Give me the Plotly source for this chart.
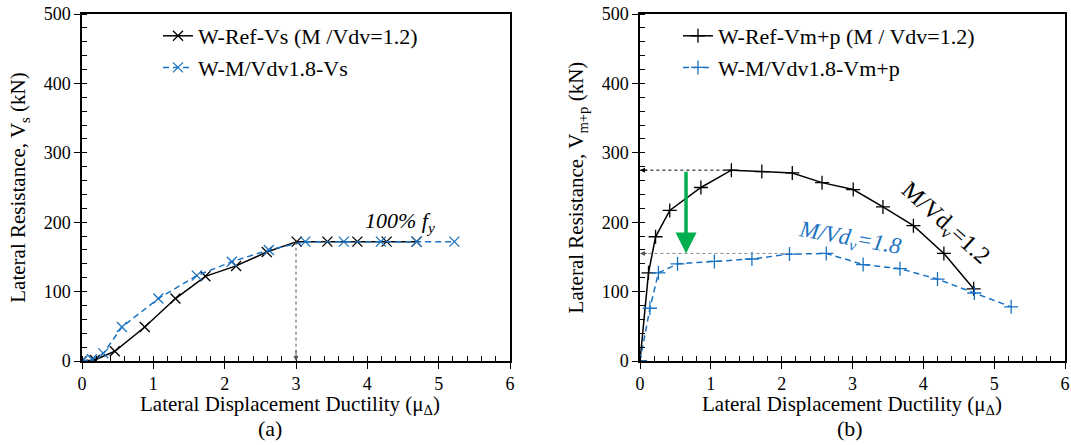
import plotly.graph_objects as go

# ---------------- data ----------------
# (a) shear strength Vs
ref_vs_mu = [0, 0.18, 0.46, 0.88, 1.31, 1.73, 2.16, 2.59, 3.01, 3.44, 3.86, 4.27, 4.69]
ref_vs_kn = [0, 1.5, 14, 49, 90, 122, 137, 157, 172, 172, 172, 172, 172]
m18_vs_mu = [0, 0.14, 0.30, 0.56, 1.07, 1.61, 2.10, 2.62, 3.13, 3.67, 4.19, 4.69, 5.22]
m18_vs_kn = [0, 2.5, 11, 49, 90, 123, 143, 160, 172, 172, 172, 172, 172]

# (b) Vm+p
ref_mp_mu = [0, 0.12, 0.22, 0.42, 0.86, 1.29, 1.72, 2.15, 2.57, 3.01, 3.43, 3.86, 4.29, 4.71]
ref_mp_kn = [0, 127, 179, 217, 250, 275, 273, 271, 257, 247, 222, 195, 155, 104]
m18_mp_mu = [0, 0.14, 0.26, 0.53, 1.05, 1.58, 2.11, 2.63, 3.15, 3.67, 4.20, 4.72, 5.24]
m18_mp_kn = [0, 76, 127, 140, 143.5, 147, 154, 155, 139, 133, 118, 98, 78]

# reference levels
yield_mu = 3.0
yield_vs = 172
peak_ref_mu, peak_ref_kn = 1.29, 275
peak_m18_mu, peak_m18_kn = 2.11, 155
drop_arrow_mu = 0.65

names_a = ["W-Ref-Vs (M /Vdv=1.2)", "W-M/Vdv1.8-Vs"]
names_b = ["W-Ref-Vm+p (M / Vdv=1.2)", "W-M/Vdv1.8-Vm+p"]

FONT = "Liberation Serif, Times New Roman, serif"
BLUE = "#1a72c2"
BLACK = "#000000"
GREEN = "#00b050"
GREY = "#555555"

W, H = 1071, 445

fig = go.Figure()

def add_series(x, y, name, color, dash, symbol, xa, ya, leg):
    fig.add_trace(go.Scatter(
        x=x, y=y, name=name, mode="lines+markers",
        line=dict(color=color, width=1.5, dash=dash),
        marker=dict(symbol=symbol, size=10, color=color,
                    line=dict(color=color, width=1.3)),
        xaxis=xa, yaxis=ya, legend=leg))

add_series(ref_vs_mu, ref_vs_kn, names_a[0], BLACK, "solid", "x-thin", "x", "y", "legend")
add_series(m18_vs_mu, m18_vs_kn, names_a[1], BLUE, "6px,4px", "x-thin", "x", "y", "legend")
add_series(ref_mp_mu, ref_mp_kn, names_b[0], BLACK, "solid", "cross-thin", "x2", "y2", "legend2")
add_series(m18_mp_mu, m18_mp_kn, names_b[1], BLUE, "6px,4px", "cross-thin", "x2", "y2", "legend2")

# dotted guide lines (as traces)
fig.add_trace(go.Scatter(x=[yield_mu, yield_mu], y=[yield_vs, 0], mode="lines",
                         line=dict(color=GREY, width=1, dash="dot"),
                         showlegend=False, hoverinfo="skip", xaxis="x", yaxis="y"))
fig.add_trace(go.Scatter(x=[peak_ref_mu, 0], y=[peak_ref_kn, peak_ref_kn], mode="lines",
                         line=dict(color=BLACK, width=1, dash="dot"),
                         showlegend=False, hoverinfo="skip", xaxis="x2", yaxis="y2"))
fig.add_trace(go.Scatter(x=[peak_m18_mu, 0], y=[peak_m18_kn, peak_m18_kn], mode="lines",
                         line=dict(color="#888888", width=1, dash="dot"),
                         showlegend=False, hoverinfo="skip", xaxis="x2", yaxis="y2"))

axis_common = dict(
    showline=True, linecolor="black", linewidth=1.5, mirror=True,
    ticks="outside", ticklen=6, tickwidth=1.3, tickcolor="black",
    showgrid=False, zeroline=False, automargin=False, ticklabeloverflow="allow",
    tickfont=dict(family=FONT, size=18, color="black"),
)
minor_x = dict(dtick=0.2, ticks="inside", ticklen=5, tickcolor="black", tickwidth=1, showgrid=False)
minor_y = dict(dtick=20, ticks="inside", ticklen=5, tickcolor="black", tickwidth=1, showgrid=False)

def px(x):  # screen x -> paper fraction
    return x / W

def py(y):  # screen y -> paper fraction
    return (H - y) / H

fig.update_layout(
    template="none",
    width=W, height=H,
    margin=dict(l=0, r=0, t=0, b=0, pad=0),
    paper_bgcolor="white", plot_bgcolor="white",
    font=dict(family=FONT, color="black"),
    xaxis=dict(domain=[px(82), px(510)], range=[0, 6], dtick=1, minor=minor_x,
               anchor="y", **axis_common),
    yaxis=dict(domain=[py(361), py(14)], range=[0, 500], dtick=100, minor=minor_y,
               title=dict(text="Lateral Resistance, V<sub>s</sub> (kN)",
                          font=dict(family=FONT, size=21, color="black"), standoff=12),
               anchor="x", **axis_common),
    xaxis2=dict(domain=[px(640), px(1065)], range=[0, 6], dtick=1, minor=minor_x,
                anchor="y2", **axis_common),
    yaxis2=dict(domain=[py(361), py(14)], range=[0, 500], dtick=100, minor=minor_y,
                title=dict(text="Lateral Resistance, V<sub>m+p</sub> (kN)",
                           font=dict(family=FONT, size=21, color="black"), standoff=12),
                anchor="x2", **axis_common),
    legend=dict(x=px(158), y=py(15), xanchor="left", yanchor="top",
                bgcolor="rgba(0,0,0,0)", font=dict(family=FONT, size=22, color="black"),
                tracegroupgap=0, itemwidth=30),
    legend2=dict(x=px(678), y=py(15), xanchor="left", yanchor="top",
                 bgcolor="rgba(0,0,0,0)", font=dict(family=FONT, size=22, color="black"),
                 tracegroupgap=0, itemwidth=30),
)

xtitle = "Lateral Displacement Ductility (μ<sub>Δ</sub>)"
def label(x, y, text, size=21):
    return dict(x=px(x), y=py(y), xref="paper", yref="paper", showarrow=False,
                xanchor="center", yanchor="middle", text=text,
                font=dict(family=FONT, size=size, color="black"))

annotations = [
    # arrowhead at bottom of yield dotted line
    dict(x=yield_mu, y=0, ax=yield_mu, ay=yield_vs * 0.1, xref="x", yref="y",
         axref="x", ayref="y", showarrow=True, arrowhead=2, arrowsize=1,
         arrowwidth=1, arrowcolor=GREY, text=""),
    dict(x=4.46, y=201, xref="x", yref="y", showarrow=False,
         text="<i>100% f<sub>y</sub></i>", font=dict(family=FONT, size=22, color="black")),
    # left arrowheads on peak lines
    dict(x=0, y=peak_ref_kn, ax=0.12, ay=peak_ref_kn, xref="x2", yref="y2",
         axref="x2", ayref="y2", showarrow=True, arrowhead=2, arrowsize=1,
         arrowwidth=1, arrowcolor=BLACK, text=""),
    dict(x=0, y=peak_m18_kn, ax=0.12, ay=peak_m18_kn, xref="x2", yref="y2",
         axref="x2", ayref="y2", showarrow=True, arrowhead=2, arrowsize=1,
         arrowwidth=1, arrowcolor=GREY, text=""),
    # green drop arrow
    dict(x=drop_arrow_mu, y=peak_m18_kn, ax=drop_arrow_mu, ay=peak_ref_kn,
         xref="x2", yref="y2", axref="x2", ayref="y2", showarrow=True,
         arrowhead=2, arrowsize=1.2, arrowwidth=3.5, arrowcolor=GREEN, text=""),
    dict(x=4.3, y=197, xref="x2", yref="y2", showarrow=False, textangle=42,
         text="M/Vd<sub>v</sub>=1.2", font=dict(family=FONT, size=24, color="black")),
    dict(x=2.96, y=176, xref="x2", yref="y2", showarrow=False, textangle=10,
         text="<i>M/Vd<sub>v</sub>=1.8</i>", font=dict(family=FONT, size=23, color=BLUE)),
    # x-axis titles
    label(290, 405, xtitle),
    label(852, 405, xtitle),
    # panel labels
    label(270, 428, "(a)", 22),
    label(850, 428, "(b)", 22),
]
fig.update_layout(annotations=annotations)

fig.write_html("out.html", config={"displayModeBar": False},
               post_script="document.body.style.margin='0px';document.body.style.padding='0px';")
